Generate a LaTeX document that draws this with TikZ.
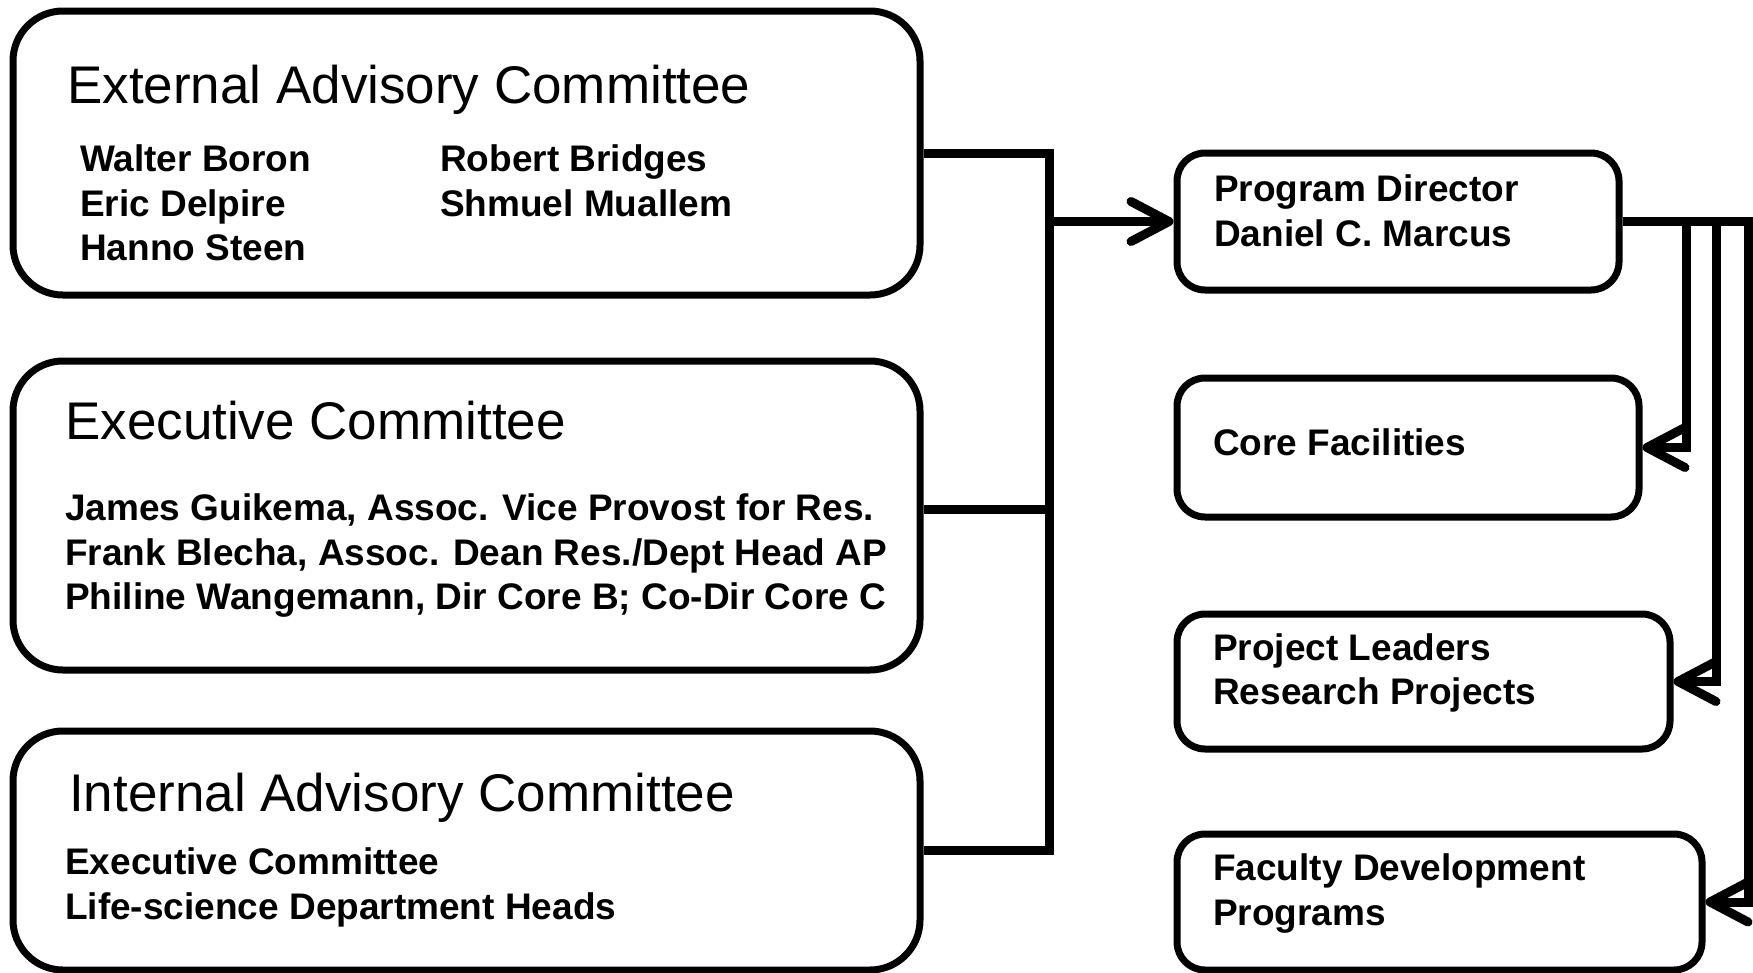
\documentclass[tikz,border=0pt]{standalone}
\usepackage{fontspec}
\setmainfont{Liberation Sans}
\usetikzlibrary{arrows.meta}
\tikzset{
  bigbox/.style={draw, line width=7pt, rounded corners=50pt, inner sep=0pt},
  smallbox/.style={draw, line width=7pt, rounded corners=28pt, inner sep=0pt},
  conn/.style={line width=9pt},
  arr/.style={-{Straight Barb[length=38pt,width=40pt,round]}},
  title/.style={anchor=base west, inner sep=0pt, font=\fontsize{53}{60}\selectfont},
  body/.style={anchor=base west, inner sep=0pt, font=\bfseries\fontsize{37}{44}\selectfont},
}
\begin{document}
\begin{tikzpicture}[x=1pt,y=-1pt]
\useasboundingbox (0,0) rectangle (1753,972);
% left boxes
\node[bigbox, minimum width=907pt, minimum height=284pt] (ext) at (466.5,153) {};
\node[bigbox, minimum width=907pt, minimum height=309pt] (exe) at (466.5,515.5) {};
\node[bigbox, minimum width=907pt, minimum height=239pt] (iac) at (466.5,850.5) {};
% right boxes
\node[smallbox, minimum width=442pt, minimum height=137pt] (pd) at (1398,221.5) {};
\node[smallbox, minimum width=462pt, minimum height=139pt] (core) at (1408,447.5) {};
\node[smallbox, minimum width=493pt, minimum height=135pt] (proj) at (1423.5,681.5) {};
\node[smallbox, minimum width=525pt, minimum height=136pt] (fac) at (1439.5,902) {};
% texts
\node[title] (t1) at (67,103) {External Advisory Committee};
\node[body] (n1) at (80,171) {Walter Boron};
\node[body] (n2) at (80,216) {Eric Delpire};
\node[body] (n3) at (80,260) {Hanno Steen};
\node[body] (n4) at (440,171) {Robert Bridges};
\node[body] (n5) at (440,216) {Shmuel Muallem};
\node[title] (t2) at (65,439) {Executive Committee};
\node[body] (e1) at (65,520) {James Guikema, Assoc. Vice Provost for Res.};
\node[body] (e2) at (65,565) {Frank Blecha, Assoc. Dean Res./Dept Head AP};
\node[body] (e3) at (65,609) {Philine Wangemann, Dir Core B; Co-Dir Core C};
\node[title] (t3) at (69,811) {Internal Advisory Committee};
\node[body] (i1) at (65,874) {Executive Committee};
\node[body] (i2) at (65,919) {Life-science Department Heads};
\node[body] (p1) at (1214,201) {Program Director};
\node[body] (p2) at (1214,246) {Daniel C. Marcus};
\node[body] (c1) at (1213,455) {Core Facilities};
\node[body] (r1t) at (1213,660) {Project Leaders};
\node[body] (r2t) at (1213,704) {Research Projects};
\node[body] (f1) at (1213,880) {Faculty Development};
\node[body] (f2) at (1213,925) {Programs};
% connectors
\coordinate (bx) at (1049,0);
\coordinate (ra) at (1686,0);
\coordinate (rb) at (1716,0);
\coordinate (rc) at (1748,0);
\coordinate (exo) at ([yshift=6pt]exe.east);
\draw[conn] (ext.east) -- (ext.east -| bx) -- (iac.east -| bx) -- (iac.east);
\draw[conn] (exo) -- (exo -| bx);
\draw[conn,arr] (pd.west -| bx) -- (pd.west);
\draw[conn,arr] (pd.east) -- (pd.east -| ra) -- (core.east -| ra) -- (core.east);
\draw[conn,arr] (pd.east) -- (pd.east -| rb) -- (proj.east -| rb) -- (proj.east);
\draw[conn,arr] (pd.east) -- (pd.east -| rc) -- (fac.east -| rc) -- (fac.east);
\end{tikzpicture}
\end{document}
